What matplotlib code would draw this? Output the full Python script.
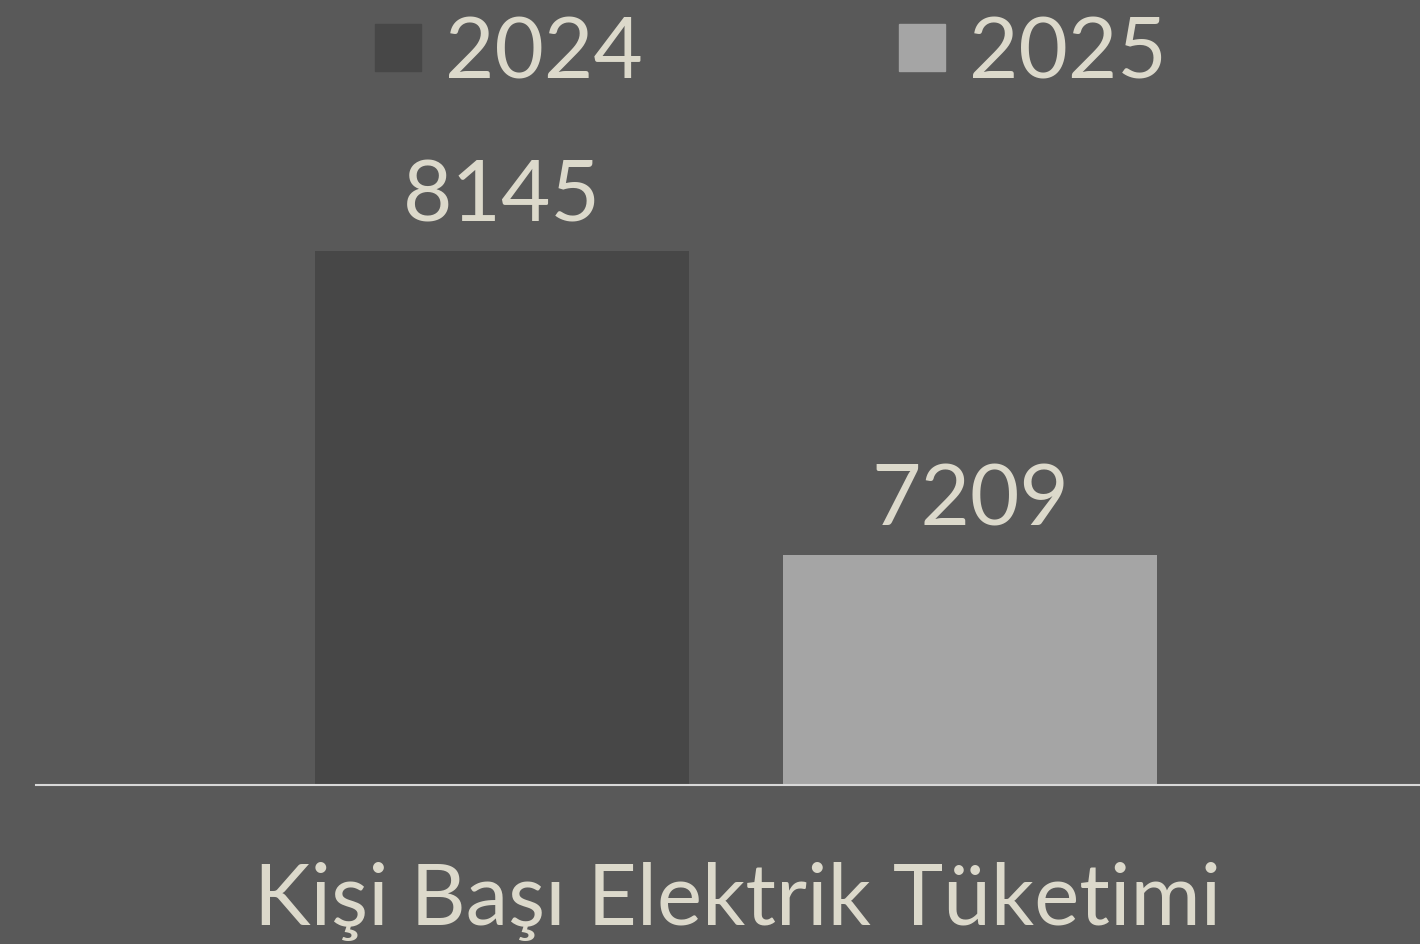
import numpy as np
import matplotlib
matplotlib.use('Agg')
import matplotlib.pyplot as plt

#============================================
# data
#============================================
years  = ['2024', '2025']
values = [8145, 7209]
category = 'Kişi Başı Elektrik Tüketimi'

bg     = '#595959'
colors = ['#474747', '#a5a5a5']
txtc   = '#dcd9cb'

plt.rcParams['font.family'] = ['Lato', 'DejaVu Sans']
fsz = 61.5

W, H = 1420, 945
fig = plt.figure(figsize=(W/100, H/100), dpi=100, facecolor=bg)

# axes in pixel terms: left 36, right 1420, bottom ~785, top 100
left, right, bot, top = 36, 1420, 786, 100
ax = fig.add_axes([left/W, 1-bot/H, (right-left)/W, (bot-top)/H], facecolor=bg)

ymin  = 6500
scale = (values[0]-values[1])/(556-252)   # units per pixel
ax.set_ylim(ymin, ymin + (bot-top)*scale)
ax.set_xlim(-0.9957, 1.9615)

x = np.arange(len(years))
bars = ax.bar(x, values, width=0.8, color=colors)
for b, v in zip(bars, values):
    ax.annotate(str(v), (b.get_x()+b.get_width()/2, v), xytext=(0, 30*0.72),
                textcoords='offset points', ha='center', va='baseline',
                fontsize=fsz, color=txtc)

for s in ['left', 'right', 'top']:
    ax.spines[s].set_visible(False)
ax.spines['bottom'].set_color('#d9d9d9')
ax.spines['bottom'].set_linewidth(1.5)
ax.set_xticks([])
ax.set_yticks([])

handles = [plt.Rectangle((0, 0), 1, 1, color=c) for c in colors]
leg = fig.legend(handles, years, loc='center', bbox_to_anchor=(771/W, 1-55/H),
                 ncol=2, frameon=False, fontsize=fsz, handlelength=0.54,
                 handleheight=0.47, handletextpad=0.28, columnspacing=3.0,
                 borderpad=0, borderaxespad=0)
for t in leg.get_texts():
    t.set_color(txtc)

fig.text(738/W, 1-925/H, category, ha='center', va='baseline',
         fontsize=fsz, color=txtc)

fig.savefig('out.png', dpi=100, facecolor=bg)
